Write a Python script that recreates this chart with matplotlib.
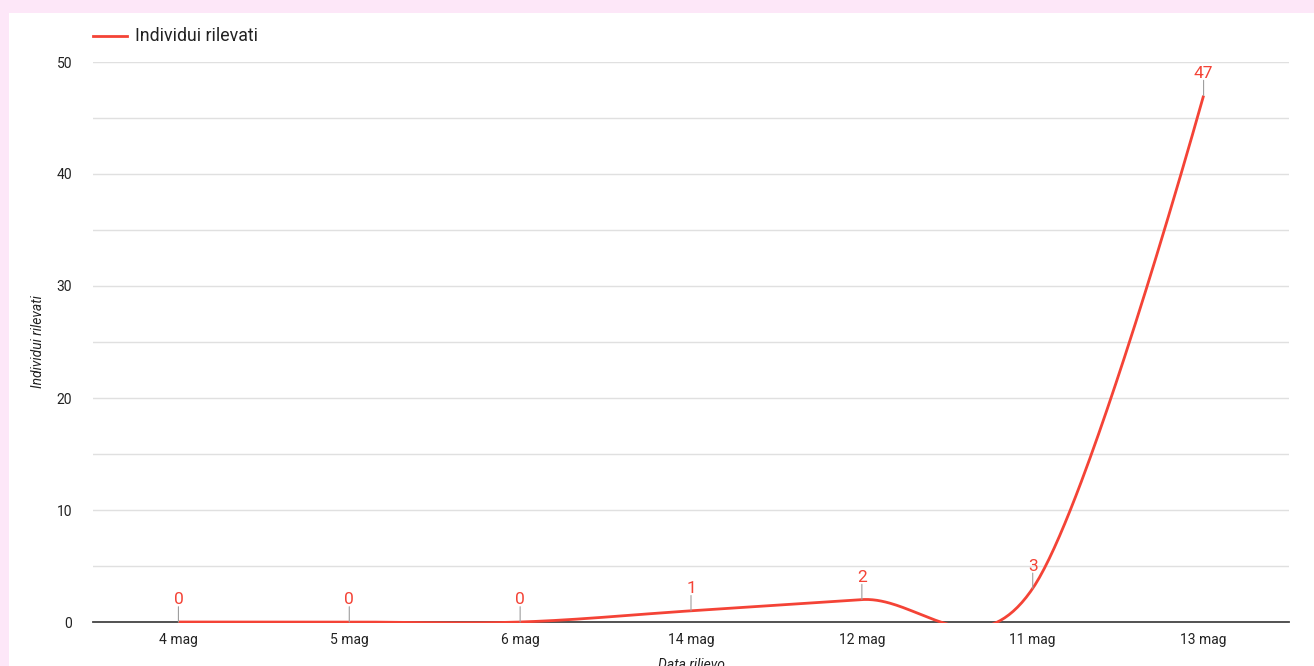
import numpy as np
import matplotlib
matplotlib.use("Agg")
import matplotlib.pyplot as plt
from matplotlib.patches import Rectangle

# Dati del rilievo
date_rilievo = ['4 mag', '5 mag', '6 mag', '14 mag', '12 mag', '11 mag', '13 mag']
individui = [0, 0, 0, 1, 2, 3, 47]

ROSSO = '#f44336'
plt.rcParams['font.family'] = ['Roboto', 'DejaVu Sans']


def cardinal(xs, ys, n=80):
    # curva "cardinal" (tensione 0): agli estremi il punto di controllo coincide col punto
    p = np.column_stack([xs, ys]).astype(float)
    k = 1 / 6
    t = np.linspace(0, 1, n)[:, None]
    segs = []
    for i in range(len(p) - 1):
        prev = p[i - 1] if i > 0 else p[i + 1]
        nxt = p[i + 2] if i + 2 < len(p) else p[i]
        c1 = p[i] + k * (p[i + 1] - prev)
        c2 = p[i + 1] + k * (p[i] - nxt)
        b = ((1 - t)**3 * p[i] + 3 * (1 - t)**2 * t * c1
             + 3 * (1 - t) * t**2 * c2 + t**3 * p[i + 1])
        segs.append(b)
    out = np.vstack(segs)
    return out[:, 0], out[:, 1]


fig = plt.figure(figsize=(13.14, 6.66), dpi=100)
fig.patch.set_facecolor('#fde7f8')
fig.patches.append(Rectangle((9/1314, 0), 1 - 9/1314, 1 - 13/666,
                             transform=fig.transFigure, facecolor='white',
                             edgecolor='none', zorder=-10))

ax = fig.add_axes([93/1314, 44/666, 1196/1314, 560/666])
ax.set_facecolor('none')

x = np.arange(len(date_rilievo)) + 0.5
cx, cy = cardinal(x, individui)
linea, = ax.plot(cx, cy, color=ROSSO, lw=2, zorder=3, solid_capstyle='butt')
# taglio appena sotto lo zero, così la linea a 0 resta visibile sopra l'asse
clip = Rectangle((0, -0.1), len(date_rilievo), 60, transform=ax.transData,
                 facecolor='none', edgecolor='none')
linea.set_clip_path(clip)

for xi, yi in zip(x, individui):
    ax.annotate('', xy=(xi, yi), xytext=(0, 11), textcoords='offset points',
                arrowprops=dict(arrowstyle='-', color='#9e9e9e', lw=0.8,
                                shrinkA=0, shrinkB=0), zorder=4,
                annotation_clip=False)
    ax.annotate(str(yi), xy=(xi, yi), xytext=(0, 10.5), textcoords='offset points',
                ha='center', va='bottom', color=ROSSO, fontsize=12.5,
                annotation_clip=False)

ax.set_xlim(0, len(date_rilievo))
ax.set_ylim(0, 50)
ax.set_xticks(x)
ax.set_xticklabels(date_rilievo)
ax.set_yticks(np.arange(0, 51, 10))
ax.set_yticks(np.arange(5, 50, 10), minor=True)
ax.grid(True, which='both', axis='y', color='#e0e0e0', lw=1)
ax.set_axisbelow(True)
ax.tick_params(axis='both', which='both', length=0, labelsize=10, colors='#222222', pad=8)
ax.tick_params(axis='y', pad=15)
for s in ['top', 'right', 'left']:
    ax.spines[s].set_visible(False)
ax.spines['bottom'].set_color('#444444')
ax.spines['bottom'].set_linewidth(1.3)
ax.spines['bottom'].set_zorder(2.5)

ax.set_xlabel('Data rilievo', fontstyle='italic', fontsize=10, color='#222222', labelpad=8)
ax.set_ylabel('Individui rilevati', fontstyle='italic', fontsize=10, color='#222222', labelpad=8)

# legenda
fig.lines.append(plt.Line2D([93/1314, 127/1314], [1 - 36/666] * 2,
                            transform=fig.transFigure, color=ROSSO, lw=2))
fig.text(135/1314, 1 - 36/666, 'Individui rilevati', fontsize=12.8,
         color='#222222', va='center', ha='left')

fig.savefig('out.png', dpi=100, facecolor=fig.get_facecolor())
